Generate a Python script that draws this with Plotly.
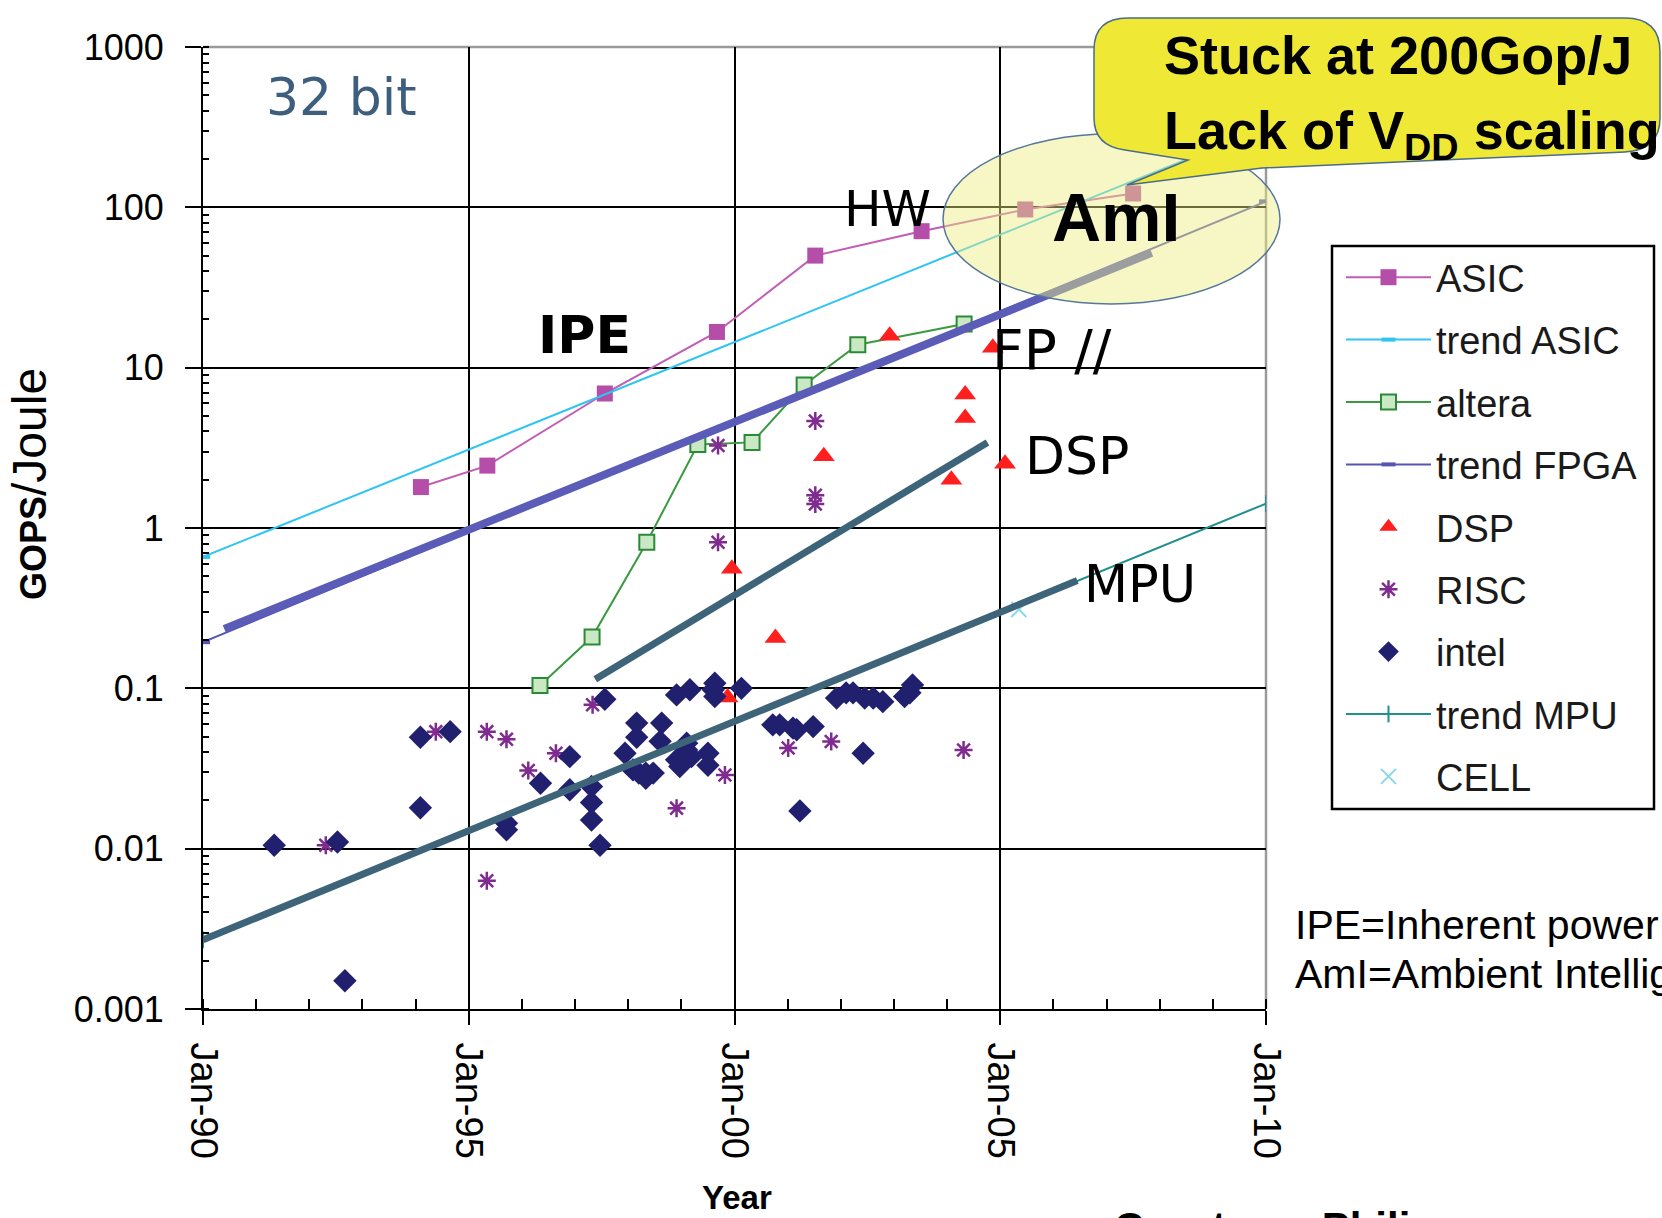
import plotly.graph_objects as go

# ---------------- data ----------------
x_tickvals = [1990, 1995, 2000, 2005, 2010]
x_ticktext = ["Jan-90", "Jan-95", "Jan-00", "Jan-05", "Jan-10"]
y_tickvals = [0.001, 0.01, 0.1, 1, 10, 100, 1000]
y_ticktext = ["0.001", "0.01", "0.1", "1", "10", "100", "1000"]

asic_x = [1994.1, 1995.35, 1997.56, 1999.67, 2001.52, 2003.52, 2005.47, 2007.5]
asic_y = [1.8, 2.45, 6.9, 16.7, 50, 71, 97, 122]

trend_asic_x = [1990, 2010]
trend_asic_y = [0.66, 316]

altera_x = [1996.34, 1997.32, 1998.35, 1999.31, 2000.33, 2001.31, 2002.32, 2004.32]
altera_y = [0.104, 0.209, 0.815, 3.32, 3.42, 7.8, 13.9, 18.7]

trend_fpga_x = [1990, 2010]
trend_fpga_y = [0.194, 109]

dsp_x = [2002.92, 2004.86, 2004.34, 2004.34, 2001.68, 2004.08, 2005.09, 1999.95, 2000.77, 1999.87]
dsp_y = [15.8, 13.3, 6.8, 4.86, 2.8, 2.0, 2.52, 0.556, 0.206, 0.0877]

risc_x = [2001.52, 2001.52, 2001.52, 1999.69, 1999.69, 1997.33, 1994.38, 1995.34, 1995.71,
          1996.12, 1996.64, 1999.82, 1998.91, 2001.01, 2001.82, 2004.31, 1995.34, 1992.31]
risc_y = [4.65, 1.6, 1.41, 3.27, 0.815, 0.0789, 0.0537, 0.0537, 0.0482,
          0.0307, 0.0394, 0.0288, 0.0179, 0.0424, 0.0466, 0.0413, 0.0063, 0.0105]

intel_x = [1991.34, 1992.53, 1992.67, 1994.09, 1994.65, 1994.09, 1995.71, 1995.71, 1996.35,
           1996.90, 1996.90, 1997.31, 1997.31, 1997.31, 1997.47, 1997.56, 1997.94, 1998.09,
           1998.16, 1998.16, 1998.20, 1998.33, 1998.47, 1998.33, 1998.63, 1998.60, 1998.91,
           1998.97, 1999.10, 1999.19, 1999.10, 1999.50, 1999.50, 1998.91, 1999.16, 1999.63,
           1999.63, 1999.60, 2000.13, 2000.72, 2000.85, 2001.10, 2001.17, 2001.48, 2001.23,
           2001.92, 2002.10, 2002.23, 2002.45, 2002.61, 2002.79, 2002.42, 2003.20, 2003.30,
           2003.35]
intel_y = [0.0105, 0.011, 0.0015, 0.0495, 0.0537, 0.018, 0.0144, 0.0131, 0.0256,
           0.0375, 0.0233, 0.0244, 0.0194, 0.0151, 0.0105, 0.0855, 0.0394, 0.031,
           0.0607, 0.0495, 0.0296, 0.0296, 0.0296, 0.0275, 0.0607, 0.0467, 0.0358,
           0.0325, 0.0413, 0.0375, 0.0455, 0.0394, 0.0331, 0.091, 0.098, 0.1077,
           0.0889, 0.098, 0.1, 0.0592, 0.0592, 0.0565, 0.0552, 0.0577, 0.0172,
           0.0869, 0.0937, 0.0937, 0.0869, 0.0869, 0.0826, 0.0394, 0.0889, 0.0937,
           0.105]

trend_mpu_x = [1990, 2010]
trend_mpu_y = [0.0027, 1.42]

cell_x = [2005.35]
cell_y = [0.31]

# hand-drawn guide lines (IPE / DSP / MPU)
thick_fpga_x = [1990.4, 2007.85]
thick_fpga_y = [0.235, 52]
thick_dsp_x = [1997.38, 2004.76]
thick_dsp_y = [0.114, 3.42]
thick_mpu_x = [1990, 2006.45]
thick_mpu_y = [0.0027, 0.47]

# ---------------- layout helpers ----------------
W, H = 1662, 1218
L, R, T, B = 203, 1266, 47, 1009   # plot area in pixels


def px(x):
    return (x - L) / (R - L)


def py(y):
    return (B - y) / (B - T)


ARIAL = "Liberation Sans, Arial, sans-serif"
VERD = "DejaVu Sans, Verdana, sans-serif"

fig = go.Figure()

fig.add_trace(go.Scatter(x=asic_x, y=asic_y, name="ASIC", mode="lines+markers",
                         line=dict(color="#c25cb4", width=2),
                         marker=dict(symbol="square", size=16, color="#b44ea8"),
                         legendgroup="g1"))
fig.add_trace(go.Scatter(x=trend_asic_x, y=trend_asic_y, name="trend ASIC", mode="lines+markers",
                         line=dict(color="#2ec5f2", width=2),
                         marker=dict(symbol="line-ew-open", size=10, color="#2ec5f2",
                                     line=dict(color="#2ec5f2", width=4)),
                         legendgroup="g2"))
fig.add_trace(go.Scatter(x=altera_x, y=altera_y, name="altera", mode="lines+markers",
                         line=dict(color="#3a9a40", width=2),
                         marker=dict(symbol="square", size=15, color="#cbe8c5",
                                     line=dict(color="#2a8a35", width=2)),
                         legendgroup="g3"))
fig.add_trace(go.Scatter(x=trend_fpga_x, y=trend_fpga_y, name="trend FPGA", mode="lines+markers",
                         line=dict(color="#5555b5", width=2),
                         marker=dict(symbol="line-ew-open", size=10, color="#5555b5",
                                     line=dict(color="#5555b5", width=4)),
                         legendgroup="g4"))
fig.add_trace(go.Scatter(x=dsp_x, y=dsp_y, name="DSP", mode="markers",
                         marker=dict(symbol="triangle-up", size=19, color="#ff1f1f"),
                         legendgroup="g5"))
fig.add_trace(go.Scatter(x=risc_x, y=risc_y, name="RISC", mode="markers",
                         marker=dict(symbol="asterisk-open", size=15, color="#7f2b8f",
                                     line=dict(color="#7f2b8f", width=2.5)),
                         legendgroup="g6"))
fig.add_trace(go.Scatter(x=intel_x, y=intel_y, name="intel", mode="markers",
                         marker=dict(symbol="diamond", size=18, color="#20206e"),
                         legendgroup="g7"))
fig.add_trace(go.Scatter(x=trend_mpu_x, y=trend_mpu_y, name="trend MPU", mode="lines+markers",
                         line=dict(color="#1f8f8f", width=2),
                         marker=dict(symbol="line-ns-open", size=12, color="#1f8f8f",
                                     line=dict(color="#1f8f8f", width=2)),
                         legendgroup="g8"))
fig.add_trace(go.Scatter(x=cell_x, y=cell_y, name="CELL", mode="markers",
                         marker=dict(symbol="x-thin-open", size=15, color="#88d8e8",
                                     line=dict(color="#88d8e8", width=2)),
                         legendgroup="g9"))

# thick guide lines
fig.add_trace(go.Scatter(x=thick_fpga_x, y=thick_fpga_y, mode="lines", showlegend=False,
                         line=dict(color="#5a5cb8", width=8), hoverinfo="skip"))
fig.add_trace(go.Scatter(x=thick_dsp_x, y=thick_dsp_y, mode="lines", showlegend=False,
                         line=dict(color="#3d6478", width=7), hoverinfo="skip"))
fig.add_trace(go.Scatter(x=thick_mpu_x, y=thick_mpu_y, mode="lines", showlegend=False,
                         line=dict(color="#3d6478", width=7), hoverinfo="skip"))

# ---------------- shapes ----------------
shapes = []
# gray top & right border
shapes.append(dict(type="line", xref="paper", yref="paper", x0=0, x1=1, y0=1, y1=1,
                   line=dict(color="#9a9a9a", width=2.5), layer="between"))
shapes.append(dict(type="line", xref="paper", yref="paper", x0=1, x1=1, y0=0, y1=1,
                   line=dict(color="#9a9a9a", width=2.5), layer="between"))
# legend frame
shapes.append(dict(type="rect", xref="paper", yref="paper",
                   x0=px(1332), x1=px(1654), y0=py(809), y1=py(246),
                   line=dict(color="black", width=2.5), fillcolor="white", layer="below"))
# AmI ellipse
shapes.append(dict(type="circle", xref="paper", yref="paper",
                   x0=px(943), x1=px(1280), y0=py(304), y1=py(134),
                   fillcolor="rgba(238,238,128,0.45)",
                   line=dict(color="#55779a", width=1.5), layer="above"))
# callout
pts = [("M", 1128, 18), ("L", 1625, 18), ("Q", 1660, 18, 1660, 52), ("L", 1660, 118),
       ("Q", 1660, 150, 1625, 152), ("L", 1262, 168), ("L", 1127, 185), ("L", 1188, 160),
       ("L", 1125, 150), ("Q", 1094, 146, 1094, 118), ("L", 1094, 50),
       ("Q", 1094, 18, 1128, 18)]
path = ""
for p in pts:
    cmd = p[0]
    coords = p[1:]
    s = []
    for i in range(0, len(coords), 2):
        s.append(f"{px(coords[i]):.5f},{py(coords[i + 1]):.5f}")
    path += cmd + " " + " ".join(s) + " "
path += "Z"
shapes.append(dict(type="path", xref="paper", yref="paper", path=path,
                   fillcolor="#efe935", line=dict(color="#4a6b8a", width=1.5), layer="above"))

# ---------------- annotations ----------------
ann = []


def text(x, y, t, size, family=ARIAL, color="black", xanchor="center", yanchor="middle", angle=0):
    ann.append(dict(x=px(x), y=py(y), xref="paper", yref="paper", text=t, showarrow=False,
                    font=dict(size=size, family=family, color=color),
                    xanchor=xanchor, yanchor=yanchor, textangle=angle))


text(341, 97, "32 bit", 52, VERD, "#3d5f7d")
text(584, 335, "<b>IPE</b>", 52, VERD)
text(887, 209, "HW", 50, VERD)
text(1116, 217, "<b>AmI</b>", 68, ARIAL)
text(1052, 350, "FP //", 55, VERD)
text(1077, 456, "DSP", 52, VERD)
text(1140, 584, "MPU", 51, VERD)
text(1162, 55, "<b>Stuck at 200Gop/J</b>", 54, ARIAL, xanchor="left")
text(1162, 134, "<b>Lack of V<sub>DD</sub> scaling</b>", 54, ARIAL, xanchor="left")
text(1293, 925, "IPE=Inherent power efficiency", 41, ARIAL, xanchor="left")
text(1293, 974, "AmI=Ambient Intelligence", 41, ARIAL, xanchor="left")
text(737, 1197, "<b>Year</b>", 33, ARIAL)
text(29, 484, "<b>GOPS</b><span style='font-size:48px'>/Joule</span>", 36, ARIAL, angle=-90)
text(1112, 1202, "<b>Courtesy: Philips</b>", 42, ARIAL, xanchor="left", yanchor="top")

fig.update_layout(
    width=W, height=H,
    margin=dict(l=L, r=W - R, t=T, b=H - B, pad=0),
    paper_bgcolor="white", plot_bgcolor="white",
    shapes=shapes, annotations=ann,
    font=dict(family=ARIAL, color="black"),
    legend=dict(x=px(1341), y=py(246), xanchor="left", yanchor="top",
                borderwidth=0, bgcolor="rgba(0,0,0,0)",
                font=dict(size=38, family=ARIAL, color="#1a1a1a"),
                tracegroupgap=10, itemwidth=85),
    xaxis=dict(range=[1990, 2010], tickvals=x_tickvals, ticktext=x_ticktext, tickangle=90,
               ticks="outside", ticklen=14, tickwidth=2, tickcolor="black",
               showgrid=True, gridcolor="black", gridwidth=2,
               showline=True, linecolor="black", linewidth=2, zeroline=False,
               tickfont=dict(size=38, family=ARIAL, color="black"), ticklabelstandoff=10,
               minor=dict(ticks="inside", ticklen=10, tickwidth=2, tickcolor="black",
                          dtick=1, showgrid=False)),
    yaxis=dict(type="log", range=[-3, 3], tickvals=y_tickvals, ticktext=y_ticktext,
               ticks="outside", ticklen=16, tickwidth=2, tickcolor="black",
               showgrid=True, gridcolor="black", gridwidth=2,
               showline=True, linecolor="black", linewidth=2, zeroline=False,
               tickfont=dict(size=36, family=ARIAL, color="black"), ticklabelstandoff=14,
               minor=dict(ticks="inside", ticklen=6, tickwidth=2, tickcolor="black",
                          dtick="D1", showgrid=False)),
)

fig.write_html("out.html", config={"displayModeBar": False},
               post_script="document.body.style.margin='0px';"
                           "document.body.style.overflow='hidden';")
